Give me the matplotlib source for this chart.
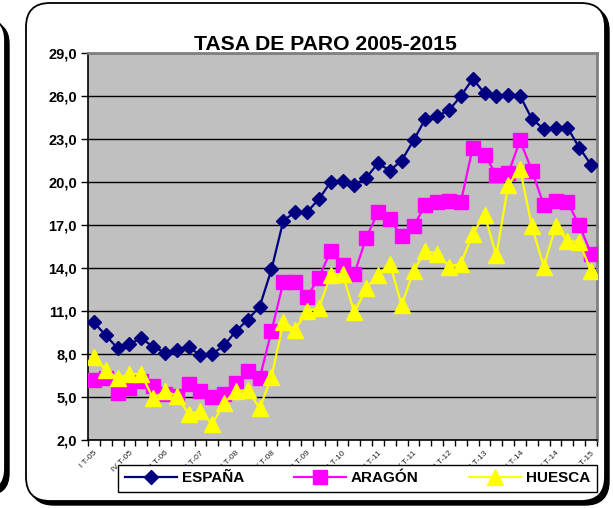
import matplotlib
matplotlib.use("Agg")
from matplotlib import pyplot as plt
from matplotlib.patches import FancyBboxPatch
from matplotlib.transforms import IdentityTransform

# quarterly unemployment rate, I T-05 .. III T-15
espana = [10.2, 9.3, 8.4, 8.7, 9.1, 8.5, 8.1, 8.3, 8.5, 7.9, 8.0, 8.6, 9.6, 10.4, 11.3,
          13.9, 17.3, 17.9, 17.9, 18.8, 20.0, 20.1, 19.8, 20.3, 21.3, 20.8, 21.5, 22.9,
          24.4, 24.6, 25.0, 26.0, 27.2, 26.2, 26.0, 26.1, 26.0, 24.4, 23.7, 23.8, 23.8,
          22.4, 21.2]
aragon = [6.2, 6.3, 5.3, 5.6, 6.1, 5.8, 5.2, 5.1, 5.9, 5.4, 5.0, 5.2, 6.0, 6.8, 6.3,
          9.6, 13.0, 13.0, 12.0, 13.3, 15.2, 14.2, 13.6, 16.1, 17.9, 17.4, 16.2, 16.9,
          18.4, 18.6, 18.7, 18.6, 22.4, 21.9, 20.5, 20.6, 22.9, 20.8, 18.4, 18.7, 18.6,
          17.0, 15.0]
huesca = [7.8, 6.9, 6.3, 6.6, 6.6, 4.9, 5.4, 5.1, 3.8, 4.0, 3.1, 4.6, 5.4, 5.5, 4.2,
          6.4, 10.2, 9.7, 11.0, 11.2, 13.5, 13.6, 10.9, 12.6, 13.5, 14.3, 11.4, 13.8,
          15.2, 15.0, 14.1, 14.3, 16.4, 17.7, 14.9, 19.8, 20.9, 16.9, 14.1, 16.9, 15.9,
          15.8, 13.8]
tick_labels = ["I T-05", "IV T-05", "III T-06", "II T-07", "I T-08", "IV T-08", "III T-09",
               "II T-10", "I T-11", "IV T-11", "III T-12", "II T-13", "I T-14", "IV T-14",
               "III T-15"]
y_ticks = [2, 5, 8, 11, 14, 17, 20, 23, 26, 29]

W, H = 613, 508
fig = plt.figure(figsize=(W / 100, H / 100), dpi=100)
fig.patch.set_facecolor("white")
font = "Liberation Sans"


def frame(x0, y0, x1, y1, r):
    # rounded box with black drop shadow, in pixel coords (top-left origin)
    sh = FancyBboxPatch((x0 + 4, H - y1 - 4), x1 - x0, y1 - y0,
                        boxstyle=f"round,pad=0,rounding_size={r}",
                        transform=IdentityTransform(), facecolor="black",
                        edgecolor="black", zorder=-3)
    bx = FancyBboxPatch((x0, H - y1), x1 - x0, y1 - y0,
                        boxstyle=f"round,pad=0,rounding_size={r}",
                        transform=IdentityTransform(), facecolor="white",
                        edgecolor="black", lw=1.3, zorder=-2)
    fig.patches.extend([sh, bx])


frame(-60, 18, 5, 491, 22)
frame(26, 3, 605, 501, 24)

ax = fig.add_axes([88 / W, 68 / H, 509 / W, 387 / H])
ax.set_facecolor("#C0C0C0")
x = list(range(len(espana)))

ax.plot(x, espana, color="#000080", lw=1.6, marker="D", ms=7.5, label="ESPAÑA", zorder=3)
ax.plot(x, aragon, color="#FF00FF", lw=1.6, marker="s", ms=10, label="ARAGÓN", zorder=4)
ax.plot(x, huesca, color="#FFFF00", lw=1.6, marker="^", ms=11, label="HUESCA", zorder=5)

ax.set_xlim(-0.5, len(x) - 0.5)
ax.set_ylim(2, 29)
ax.set_yticks(y_ticks)
ax.set_yticklabels([f"{v:.1f}".replace(".", ",") for v in y_ticks],
                   fontfamily=font, fontweight="bold", fontsize=10.5)
ax.yaxis.grid(True, color="black", lw=1)
ax.set_axisbelow(True)
ax.tick_params(axis="y", length=5, width=1, pad=3)

ax.set_xticks(x[::3])
ax.set_xticklabels(tick_labels, rotation=45, ha="right", rotation_mode="anchor",
                   fontfamily=font, fontsize=6, color="#222222")
ax.set_xticks([i - 0.5 for i in range(len(x) + 1)], minor=True)
ax.tick_params(axis="x", which="major", length=0, pad=7)
ax.tick_params(axis="x", which="minor", length=4, width=1)

for s in ["left", "bottom"]:
    ax.spines[s].set_color("black")
    ax.spines[s].set_linewidth(1.2)
for s in ["top", "right"]:
    ax.spines[s].set_color("#808080")
    ax.spines[s].set_linewidth(2)

fig.text(325 / W, 1 - 44 / H, "TASA DE PARO 2005-2015", ha="center", va="center",
         fontfamily=font, fontweight="bold", fontsize=15.2)

leg = fig.legend(loc="center", bbox_to_anchor=(357.5 / W, 1 - 478.5 / H), ncol=3,
                 frameon=True, fancybox=False, edgecolor="black", framealpha=1,
                 prop=dict(family=font, weight="bold", size=11),
                 handlelength=3.4, handletextpad=0.3, columnspacing=3.3,
                 borderpad=0.45, markerscale=1.0)
leg.get_frame().set_linewidth(1)

fig.savefig("out.png", dpi=100)
